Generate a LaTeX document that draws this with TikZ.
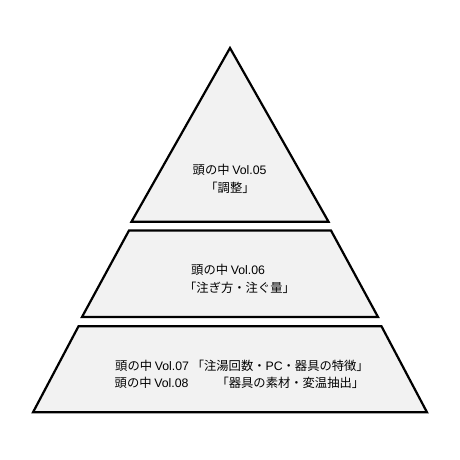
\documentclass[tikz,border=0pt]{standalone}
\usepackage{fontspec}
\newfontfamily\jpfont{Noto Sans CJK JP}
\newfontfamily\latinsf{Liberation Sans}
\definecolor{layergray}{RGB}{242,242,242}

\begin{document}
\begin{tikzpicture}[x=1pt,y=-1pt]
\tikzset{
    layer/.style={draw=black,line width=2.2pt,fill=layergray},
    txt/.style={font=\jpfont\fontsize{12.3}{14}\selectfont,inner sep=0pt}
}
\useasboundingbox (0,0) rectangle (460,460);

% top
\coordinate (apex) at (230,48);
\coordinate (t0) at (131.5,221.7);
\coordinate (t1) at (328.5,221.7);

% middle
\coordinate (m0) at (129,230.5);
\coordinate (m1) at (331,230.5);
\coordinate (m2) at (82,317);
\coordinate (m3) at (378,317);

% bottom
\coordinate (b0) at (78.5,326.3);
\coordinate (b1) at (381.5,326.3);
\coordinate (b2) at (33,412.3);
\coordinate (b3) at (427,412.3);

\draw[layer] (apex) -- (t1) -- (t0) -- cycle;
\draw[layer] (m0) -- (m1) -- (m3) -- (m2) -- cycle;
\draw[layer] (b0) -- (b1) -- (b3) -- (b2) -- cycle;

\node[txt,anchor=west] (v05) at (192.5,170) {頭の中 {\latinsf Vol.05}};
\node[txt] (v05t) at (230,187.7) {「調整」};

\node[txt,anchor=west] (v06) at (191,270) {頭の中 {\latinsf Vol.06}};
\node[txt] (v06t) at (239.5,287.7) {「注ぎ方・注ぐ量」};

\node[txt,anchor=west] (v07) at (115,366) {頭の中 {\latinsf Vol.07} 「注湯回数・{\latinsf PC}・器具の特徴」};
\node[txt,anchor=west] (v08) at (114.5,383.3) {頭の中 {\latinsf Vol.08}\hspace{28pt}「器具の素材・変温抽出」};

\end{tikzpicture}
\end{document}
